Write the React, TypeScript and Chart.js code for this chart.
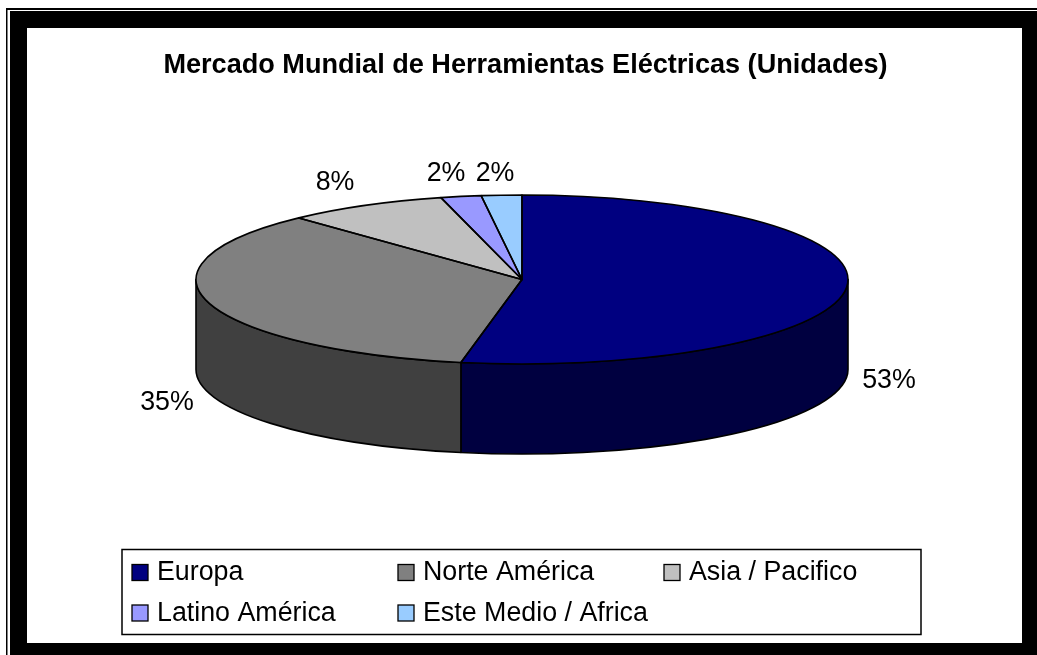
import React, { useEffect, useRef } from "react";
import { Chart, registerables } from "chart.js";

Chart.register(...registerables);

const titleText = "Mercado Mundial de Herramientas Eléctricas (Unidades)";
const categories = ["Europa", "Norte América", "Asia / Pacifico", "Latino América", "Este Medio / Africa"];
const shares = [53, 35, 8, 2, 2];
const topColors = ["#000080", "#808080", "#C0C0C0", "#9999FF", "#99CCFF"];
const sideColors = ["#000040", "#404040", "#606060", "#4C4C80", "#4C6680"];
const valueLabels = ["53%", "35%", "8%", "2%", "2%"];

const FONT = '"Liberation Sans", Arial, sans-serif';
const CX = 522;
const CY = 279.5;
const RX = 326;
const RY = 84.5;
const DEPTH = 90;
const LABEL_POS: [number, number][] = [[889, 380.5], [167, 402.5], [335, 182.5], [446, 173.5], [495, 173.5]];
const LEGEND_POS: [number, number][] = [[132, 564.5], [398, 564.5], [664, 564.5], [132, 605], [398, 605]];

const framePlugin = {
  id: "frame",
  beforeDraw(chart: any) {
    const ctx = chart.ctx;
    ctx.save();
    ctx.fillStyle = "#fff";
    ctx.fillRect(0, 0, 1037, 655);
    ctx.fillStyle = "#000";
    ctx.fillRect(6, 8, 1031, 647);
    ctx.fillStyle = "#fff";
    ctx.fillRect(7.5, 10, 1029.5, 645);
    ctx.fillStyle = "#000";
    ctx.fillRect(10, 11, 1027, 644);
    ctx.fillStyle = "#fff";
    ctx.fillRect(27, 28, 995, 615);
    ctx.restore();
  },
};

const pie3dPlugin = {
  id: "pie3d",
  beforeDatasetsDraw(chart: any) {
    const ctx = chart.ctx;
    const arcs = chart.getDatasetMeta(0).data;
    ctx.save();
    ctx.lineWidth = 1.6;
    ctx.strokeStyle = "#000";
    ctx.lineJoin = "round";
    // the visible wall: the part of each slice that lies in the front half
    arcs.forEach((arc: any, i: number) => {
      const a = Math.max(arc.startAngle, 0);
      const b = Math.min(arc.endAngle, Math.PI);
      if (b <= a) return;
      ctx.beginPath();
      ctx.ellipse(CX, CY, RX, RY, 0, a, b);
      ctx.ellipse(CX, CY + DEPTH, RX, RY, 0, b, a, true);
      ctx.closePath();
      ctx.fillStyle = sideColors[i];
      ctx.fill();
      ctx.stroke();
    });
    // the top face: the library's arcs, squashed
    arcs.forEach((arc: any) => {
      ctx.save();
      ctx.translate(CX, CY);
      ctx.scale(1, RY / RX);
      ctx.translate(-arc.x, -arc.y);
      arc.draw(ctx);
      ctx.restore();
    });
    arcs.forEach((arc: any) => {
      ctx.beginPath();
      ctx.moveTo(CX, CY);
      ctx.ellipse(CX, CY, RX, RY, 0, arc.startAngle, arc.endAngle);
      ctx.closePath();
      ctx.stroke();
    });
    // value labels
    ctx.fillStyle = "#000";
    ctx.font = `26.8px ${FONT}`;
    ctx.textAlign = "center";
    ctx.textBaseline = "middle";
    valueLabels.forEach((t, i) => ctx.fillText(t, LABEL_POS[i][0], LABEL_POS[i][1]));
    ctx.restore();
    return false;
  },
};

const boxLegendPlugin = {
  id: "boxLegend",
  afterDraw(chart: any) {
    const ctx = chart.ctx;
    ctx.save();
    ctx.strokeStyle = "#000";
    ctx.lineWidth = 1.5;
    ctx.strokeRect(122, 549.5, 799, 85);
    ctx.font = `26.8px ${FONT}`;
    ctx.textAlign = "left";
    ctx.textBaseline = "middle";
    chart.data.labels.forEach((label: string, i: number) => {
      const [x, y] = LEGEND_POS[i];
      ctx.fillStyle = chart.data.datasets[0].backgroundColor[i];
      ctx.fillRect(x, y, 16, 16);
      ctx.lineWidth = 1.3;
      ctx.strokeRect(x, y, 16, 16);
      ctx.fillStyle = "#000";
      ctx.fillText(label, x + 25, y + 8.5);
    });
    ctx.restore();
  },
};

export default function App() {
  const ref = useRef<HTMLCanvasElement>(null);
  useEffect(() => {
    const chart = new Chart(ref.current as HTMLCanvasElement, {
      type: "pie",
      data: {
        labels: categories,
        datasets: [{ data: shares, backgroundColor: topColors, borderWidth: 0, radius: RX } as any],
      },
      options: {
        responsive: false,
        animation: false,
        layout: { padding: { left: 14 } },
        plugins: {
          legend: { display: false },
          tooltip: { enabled: false },
          title: {
            display: true,
            text: titleText,
            color: "#000",
            font: { family: FONT, size: 27.1, weight: "bold" },
            padding: { top: 49, bottom: 10 },
          },
        },
      } as any,
      plugins: [framePlugin, pie3dPlugin, boxLegendPlugin],
    });
    return () => chart.destroy();
  }, []);
  return (
    <div style={{ position: "fixed", left: 0, top: 0, width: 1037, height: 655, overflow: "hidden", background: "#fff" }}>
      <canvas ref={ref} width={1037} height={655} style={{ display: "block" }} />
    </div>
  );
}
